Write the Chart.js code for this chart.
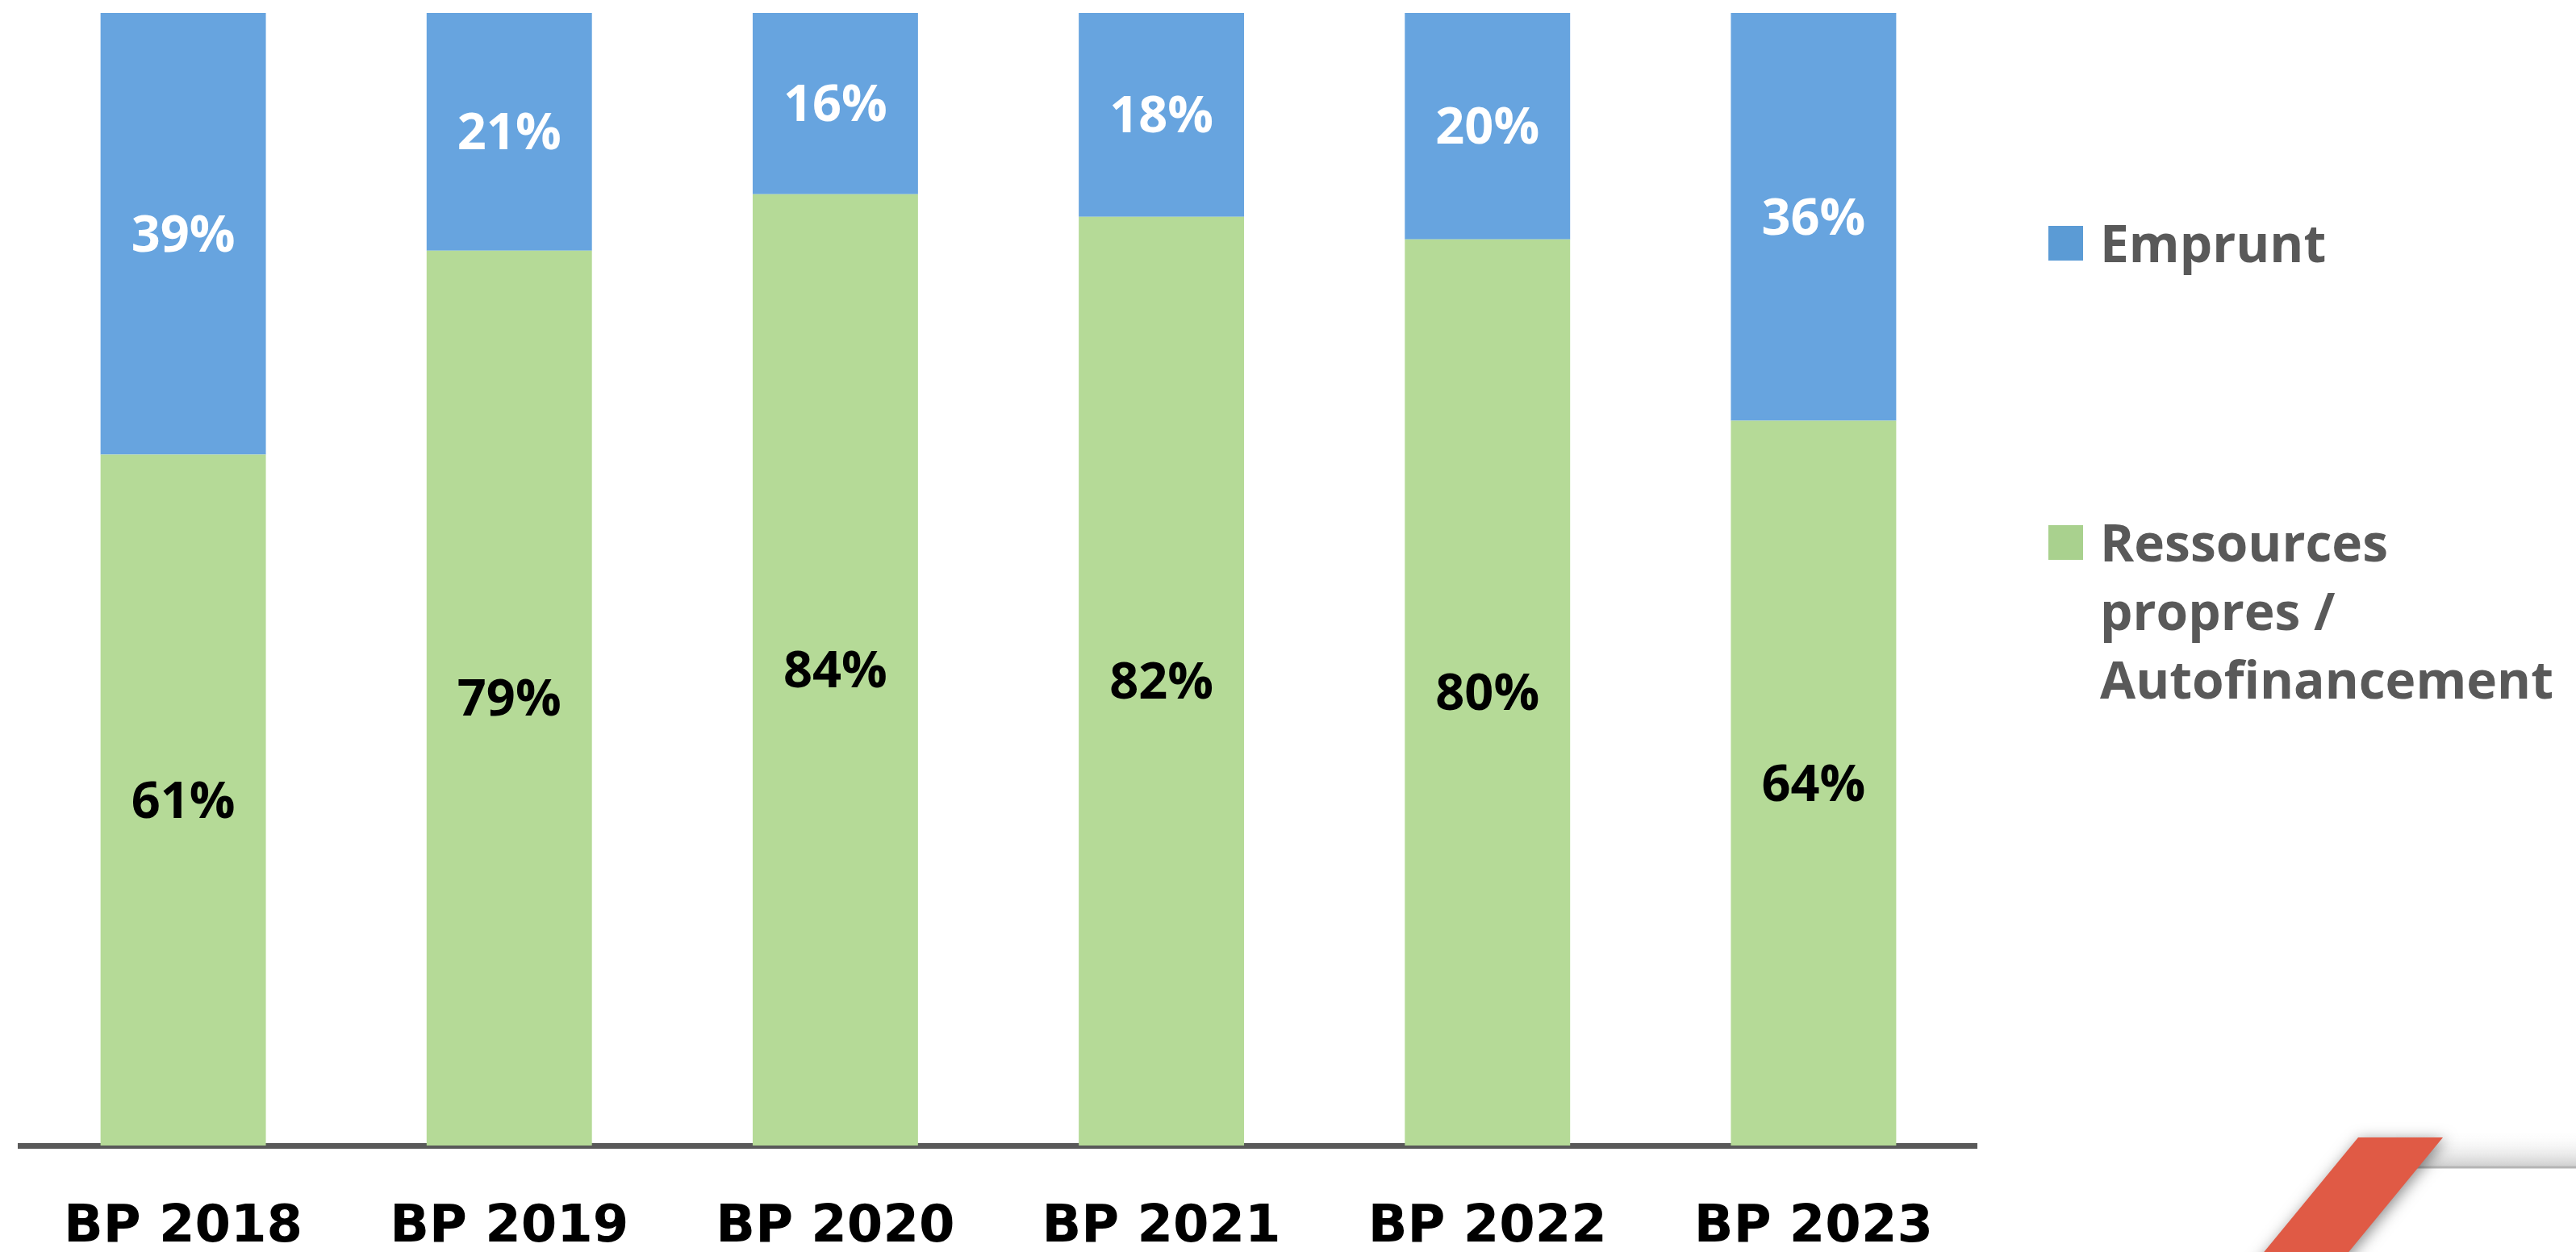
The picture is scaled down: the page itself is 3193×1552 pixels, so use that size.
<!DOCTYPE html>
<html lang="fr">
<head>
<meta charset="utf-8">
<title>Financement des investissements</title>
<script src="https://cdn.jsdelivr.net/npm/chart.js@4.4.1/dist/chart.umd.min.js"></script>
<style>
    html, body { margin: 0; padding: 0; background: #ffffff; }
    canvas { display: block; }
</style>
</head>
<body>
<canvas id="financeChart" width="3193" height="1552"></canvas>
<script>

/* =========================
   DONNÉES
========================= */

const years = ["BP 2018", "BP 2019", "BP 2020", "BP 2021", "BP 2022", "BP 2023"];

const ressourcesPropres = [61, 79, 84, 82, 80, 64];
const emprunt = [39, 21, 16, 18, 20, 36];

const legendEmprunt = ["Emprunt"];
const legendRessources = ["Ressources", "propres /", "Autofinancement"];


/* =========================
   ÉTIQUETTES DE VALEURS
========================= */

const valueLabels = {

    id: "valueLabels",

    afterDatasetsDraw(chart) {

        const ctx = chart.ctx;

        ctx.save();
        ctx.font = "bold 63px 'Open Sans'";
        ctx.textAlign = "center";
        ctx.textBaseline = "alphabetic";

        chart.data.datasets.forEach((ds, i) => {

            const meta = chart.getDatasetMeta(i);

            ctx.fillStyle = ds.labelColor;

            meta.data.forEach((bar, j) => {

                const mid = (bar.y + bar.base) / 2;
                ctx.fillText(ds.data[j] + "%", bar.x, mid + 22);

            });

        });

        ctx.restore();

    }

};


/* =========================
   LÉGENDE À DROITE
========================= */

const sideLegend = {

    id: "sideLegend",

    afterDraw(chart) {

        const ctx = chart.ctx;
        const datasets = chart.data.datasets;
        const x = chart.chartArea.right + 89;

        const items = [
            { ds: datasets[1], top: 301 },
            { ds: datasets[0], top: 672 }
        ];

        ctx.save();
        ctx.font = "bold 64px 'Open Sans'";
        ctx.textBaseline = "alphabetic";
        ctx.textAlign = "left";

        items.forEach(item => {

            ctx.fillStyle = item.ds.legendColor;
            ctx.fillRect(x, item.top - 21, 43, 43);

            ctx.fillStyle = "#595959";

            item.ds.legendLines.forEach((line, k) => {
                ctx.fillText(line, x + 64, item.top + 24 + k * 85);
            });

        });

        ctx.restore();

    }

};


/* =========================
   DÉCOR BAS DROITE
========================= */

const slideDecor = {

    id: "slideDecor",

    afterDraw(chart) {

        const ctx = chart.ctx;

        ctx.save();

        const grad = ctx.createLinearGradient(0, 1400, 0, 1447);
        grad.addColorStop(0, "rgba(255,255,255,0)");
        grad.addColorStop(1, "rgba(200,200,200,0.9)");
        ctx.fillStyle = grad;
        ctx.fillRect(2970, 1400, 223, 47);

        ctx.strokeStyle = "#b5b5b5";
        ctx.lineWidth = 3;
        ctx.beginPath();
        ctx.moveTo(2990, 1447);
        ctx.lineTo(3193, 1447);
        ctx.stroke();

        ctx.shadowColor = "rgba(0,0,0,0.45)";
        ctx.shadowBlur = 18;
        ctx.shadowOffsetX = 3;
        ctx.shadowOffsetY = 3;
        ctx.fillStyle = "#e05a45";
        ctx.beginPath();
        ctx.moveTo(2923, 1410);
        ctx.lineTo(3028, 1410);
        ctx.lineTo(2880, 1590);
        ctx.lineTo(2775, 1590);
        ctx.closePath();
        ctx.fill();

        ctx.restore();

    }

};


/* =========================
   GRAPHIQUE
========================= */

new Chart(document.getElementById("financeChart"), {

    type: "bar",

    data: {
        labels: years,
        datasets: [
            {
                label: legendRessources.join(" "),
                data: ressourcesPropres,
                backgroundColor: "#b5da97",
                legendColor: "#a9d18e",
                legendLines: legendRessources,
                labelColor: "#000000"
            },
            {
                label: legendEmprunt.join(" "),
                data: emprunt,
                backgroundColor: "#67a4df",
                legendColor: "#5b9bd5",
                legendLines: legendEmprunt,
                labelColor: "#ffffff"
            }
        ]
    },

    options: {
        responsive: false,
        animation: false,
        devicePixelRatio: 1,
        layout: {
            padding: { left: 25, right: 743, top: 16, bottom: 0 }
        },
        datasets: {
            bar: {
                categoryPercentage: 1,
                barPercentage: 0.507
            }
        },
        scales: {
            x: {
                stacked: true,
                grid: { display: false, drawTicks: false },
                border: { display: true, color: "#595959", width: 7 },
                ticks: {
                    color: "#000000",
                    padding: 64,
                    font: { family: "'DejaVu Sans'", size: 64, weight: "bold" }
                },
                afterFit(scale) {
                    scale.height = 132;
                }
            },
            y: {
                stacked: true,
                display: false,
                min: 0,
                max: 100
            }
        },
        plugins: {
            legend: { display: false },
            tooltip: { enabled: false }
        }
    },

    plugins: [valueLabels, sideLegend, slideDecor]

});

</script>
</body>
</html>
